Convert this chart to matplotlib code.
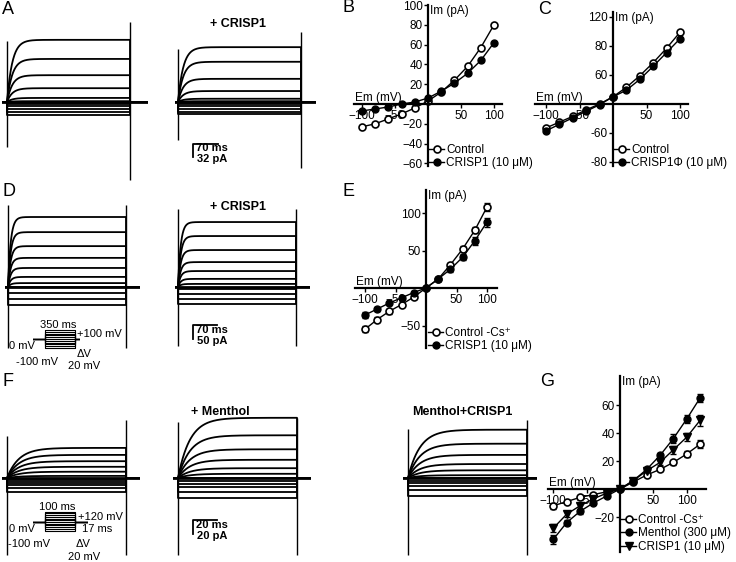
import numpy as np
import matplotlib
matplotlib.use('Agg')
import matplotlib.pyplot as plt

plt.rcParams['font.family'] = ['Liberation Sans', 'DejaVu Sans']

W, H = 736, 562

# ---------------- I-V data ----------------
v_100 = [-100, -80, -60, -40, -20, 0, 20, 40, 60, 80, 100]
v_120 = [-100, -80, -60, -40, -20, 0, 20, 40, 60, 80, 100, 120]

b_control = [-23, -20, -15, -10, -4, 3, 12, 24, 38, 57, 80]
b_crisp1 = [-7, -5, -3, 0, 2, 6, 13, 21, 31, 44, 62]

c_control = [-33, -25, -17, -8, 0, 10, 23, 39, 57, 77, 99]
c_crisp1phi = [-37, -28, -19, -10, -1, 10, 19, 34, 52, 71, 90]
c_tick_pos = [120, 80, 40, -40, -80]
c_tick_lab = ['120', '80', '60', '-60', '-80']

e_control = [-55, -42, -31, -22, -12, 0, 12, 31, 52, 77, 108]
e_control_err = [4, 3, 3, 2, 2, 1, 2, 3, 4, 4, 5]
e_crisp1 = [-36, -28, -20, -13, -6, 0, 12, 25, 41, 63, 88]
e_crisp1_err = [4, 3, 3, 2, 2, 1, 2, 3, 4, 5, 6]

g_control = [-12, -9, -6, -4, -2, 0, 5, 10, 14, 19, 25, 32]
g_control_err = [2, 1, 1, 1, 1, 1, 1, 1, 1, 2, 2, 3]
g_menthol = [-36, -24, -16, -10, -5, 0, 6, 14, 24, 36, 50, 65]
g_menthol_err = [3, 2, 2, 1, 1, 1, 1, 2, 2, 3, 3, 3]
g_crisp1 = [-28, -18, -12, -7, -3, 0, 6, 13, 19, 28, 37, 49]
g_crisp1_err = [3, 2, 2, 1, 1, 1, 1, 2, 2, 3, 3, 4]

# ---------------- current trace amplitudes (pA, steady state) ----------------
a_control_amp = [-32, -25, -17, -10, -5, 2, 10, 34, 66, 106, 153]
a_crisp1_amp = [-30, -24, -17, -10, -5, 2, 8, 27, 57, 99, 135]
d_control_amp = [-64, -43, -21, 0, 14, 36, 68, 104, 146, 196, 250]
d_crisp1_amp = [-61, -43, -25, -7, 11, 29, 57, 89, 132, 182, 232]
f_control_amp = [-20, -14, -10, -7, -4, -1, 3, 9, 16, 24, 33, 43]
f_menthol_amp = [-29, -20, -13, -9, -4, 0, 6, 14, 26, 41, 61, 86]
f_mix_amp = [-26, -17, -11, -7, -4, 0, 4, 11, 20, 33, 49, 69]

fig = plt.figure(figsize=(W / 100, H / 100), dpi=100)


def data_axes(x0, y0, sx, sy, xlim, ylim):
    # x0,y0: pixel position of data origin, sx,sy: pixels per data unit
    left = x0 + xlim[0] * sx
    right = x0 + xlim[1] * sx
    top = y0 - ylim[1] * sy
    bottom = y0 - ylim[0] * sy
    ax = fig.add_axes([left / W, 1 - bottom / H, (right - left) / W, (bottom - top) / H])
    ax.set_xlim(xlim)
    ax.set_ylim(ylim)
    ax.patch.set_visible(False)
    return ax


def ftext(x, y, s, **kw):
    kw.setdefault('va', 'center')
    fig.text(x / W, 1 - y / H, s, **kw)


def iv_axes(x0, y0, sx, sy, xlim, ylim, yticks, ylabels=None):
    ax = data_axes(x0, y0, sx, sy, xlim, ylim)
    ax.spines['top'].set_visible(False)
    ax.spines['right'].set_visible(False)
    ax.spines['left'].set_position(('data', 0))
    ax.spines['bottom'].set_position(('data', 0))
    ax.spines['left'].set_linewidth(1.6)
    ax.spines['bottom'].set_linewidth(1.6)
    ax.set_xticks([-100, -50, 50, 100])
    ax.set_yticks(yticks)
    if ylabels is not None:
        ax.set_yticklabels(ylabels)
    ax.tick_params(direction='out', length=3, width=1, labelsize=8.5, pad=1)
    ax.text(xlim[0] + 1, 0, 'Em (mV)', fontsize=8.5, va='bottom', ha='left')
    ax.text(3, ylim[1], 'Im (pA)', fontsize=8.5, va='top', ha='left')
    return ax


def legend_at(ax, px, py):
    ax.legend(loc='upper left', bbox_to_anchor=(px / W, 1 - py / H),
              bbox_transform=fig.transFigure, frameon=False, fontsize=8.5,
              handlelength=1.3, handletextpad=0.15, labelspacing=0.12,
              borderaxespad=0, borderpad=0)


open_kw = dict(color='k', marker='o', mfc='white', mec='k', mew=1.2, ms=5, lw=1)
fill_kw = dict(color='k', marker='o', mfc='k', mec='k', ms=5, lw=1)
tri_kw = dict(color='k', marker='v', mfc='k', mec='k', ms=5.5, lw=1)


def trace_panel(x_on, y_base, sx, sy, amps, tau, t_step, t_pre, t_post, art_on, art_off):
    ax = data_axes(x_on, y_base, sx, sy, (-t_pre, t_step + t_post), (-400, 400))
    ax.axis('off')
    t = np.linspace(0, t_step, 300)
    for a in amps:
        if a > 0:
            i = a * (1 - np.exp(-t / tau))
        else:
            i = np.full_like(t, a)
        tt = np.concatenate([[-t_pre, 0], t, [t_step, t_step + t_post]])
        ii = np.concatenate([[0, 0], i, [0, 0]])
        ax.plot(tt, ii, color='k', lw=1.3)
    ax.vlines(0, art_on[0], art_on[1], color='k', lw=1)
    ax.vlines(t_step, art_off[0], art_off[1], color='k', lw=1)
    ax.plot([-t_pre, t_step + t_post], [0, 0], color='k', lw=2)
    return ax


def scale_bar(ax, t0, i0, dt, di):
    ax.plot([t0 + dt, t0, t0], [i0, i0, i0 - di], color='k', lw=1.3, clip_on=False)


def protocol(x_on, y_hold, sx, sy, volts, t_step, t_pre, t_post):
    ax = data_axes(x_on, y_hold, sx, sy, (-t_pre, t_step + t_post), (-130, 130))
    ax.axis('off')
    for v in volts:
        ax.plot([-t_pre, 0, 0, t_step, t_step, t_step + t_post], [0, 0, v, v, 0, 0],
                color='k', lw=0.8)
    return ax


# ---------------- Row A / B / C ----------------
sx_a, sy_a = 123 / 350, 13 / 32
trace_panel(7, 102, sx_a, sy_a, a_control_amp, 15, 350, 14, 51, (-110, 150), (-192, 197))
ax_a2 = trace_panel(178, 102, sx_a, sy_a, a_crisp1_amp, 15, 350, 9, 43, (-94, 130), (-163, 172))
scale_bar(ax_a2, 43, -103, 70, 32)
ftext(238, 24, '+ CRISP1', fontsize=9, fontweight='bold', ha='center')
ftext(196, 148, '70 ms', fontsize=8, fontweight='bold', ha='left')
ftext(197, 159, '32 pA', fontsize=8, fontweight='bold', ha='left')

ax_b = iv_axes(428, 104, 0.66, 0.99, (-112, 112), (-63, 100),
               [-60, -40, -20, 20, 40, 60, 80, 100])
ax_b.plot(v_100, b_control, label='Control', **open_kw)
ax_b.plot(v_100, b_crisp1, label='CRISP1 (10 μM)', **fill_kw)
legend_at(ax_b, 429, 144)

ax_c = iv_axes(613, 104, 0.67, 0.725, (-116, 112), (-86, 127), c_tick_pos, c_tick_lab)
ax_c.plot(v_100, c_control, label='Control', **open_kw)
ax_c.plot(v_100, c_crisp1phi, label='CRISP1Φ (10 μM)', **fill_kw)
legend_at(ax_c, 614, 144)

# ---------------- Row D / E ----------------
sx_d, sy_d = 118 / 350, 14 / 50
trace_panel(8, 287, sx_d, sy_d, d_control_amp, 8, 350, 9, 42, (-218, 293), (-218, 293))
ax_d2 = trace_panel(178, 287, sx_d, sy_d, d_crisp1_amp, 8, 350, 9, 42, (-210, 280), (-210, 280))
scale_bar(ax_d2, 45, -136, 70, 50)
ftext(238, 207, '+ CRISP1', fontsize=9, fontweight='bold', ha='center')
ftext(196, 330, '70 ms', fontsize=8, fontweight='bold', ha='left')
ftext(197, 341, '50 pA', fontsize=8, fontweight='bold', ha='left')

protocol(45, 339, 30 / 350, 0.09, v_100, 350, 140, 60)
ftext(58, 325, '350 ms', fontsize=8, ha='center')
ftext(77, 334, '+100 mV', fontsize=8, ha='left')
ftext(9, 346, '0 mV', fontsize=8, ha='left')
ftext(16, 362, '-100 mV', fontsize=8, ha='left')
ftext(77, 354, 'ΔV', fontsize=8, ha='left')
ftext(68, 366, '20 mV', fontsize=8, ha='left')

ax_e = iv_axes(426, 288, 0.61, 0.75, (-116, 116), (-80, 131), [-50, 50, 100])
ax_e.errorbar(v_100, e_control, yerr=e_control_err, fmt='none', ecolor='k', elinewidth=1, capsize=2)
ax_e.errorbar(v_100, e_crisp1, yerr=e_crisp1_err, fmt='none', ecolor='k', elinewidth=1, capsize=2)
ax_e.plot(v_100, e_control, label='Control -Cs⁺', **open_kw)
ax_e.plot(v_100, e_crisp1, label='CRISP1 (10 μM)', **fill_kw)
legend_at(ax_e, 428, 327)

# ---------------- Row F / G ----------------
sx_f, sy_f = 119 / 100, 14 / 20
trace_panel(7, 478, sx_f, sy_f, f_control_amp, 10, 100, 4, 12, (-110, 60), (-110, 83))
ax_f2 = trace_panel(178, 478, sx_f, sy_f, f_menthol_amp, 10, 100, 4, 12, (-110, 80), (-110, 86))
trace_panel(408, 478, sx_f, sy_f, f_mix_amp, 10, 100, 4, 8, (-110, 70), (-110, 83))
scale_bar(ax_f2, 12.6, -60, 20, 20)
ftext(220, 412, '+ Menthol', fontsize=9, fontweight='bold', ha='center')
ftext(462, 412, 'Menthol+CRISP1', fontsize=9, fontweight='bold', ha='center')
ftext(196, 525, '20 ms', fontsize=8, fontweight='bold', ha='left')
ftext(197, 536, '20 pA', fontsize=8, fontweight='bold', ha='left')

protocol(45, 522, 0.3, 0.086, v_120, 100, 40, 43)
ftext(57, 507, '100 ms', fontsize=8, ha='center')
ftext(78, 517, '+120 mV', fontsize=8, ha='left')
ftext(82, 529, '17 ms', fontsize=8, ha='left')
ftext(9, 529, '0 mV', fontsize=8, ha='left')
ftext(8, 544, '-100 mV', fontsize=8, ha='left')
ftext(76, 544, 'ΔV', fontsize=8, ha='left')
ftext(68, 557, '20 mV', fontsize=8, ha='left')

ax_g = iv_axes(620, 489, 0.667, 1.4, (-108, 129), (-45, 81), [-20, 20, 40, 60])
ax_g.errorbar(v_120, g_control, yerr=g_control_err, fmt='none', ecolor='k', elinewidth=1, capsize=2)
ax_g.errorbar(v_120, g_menthol, yerr=g_menthol_err, fmt='none', ecolor='k', elinewidth=1, capsize=2)
ax_g.errorbar(v_120, g_crisp1, yerr=g_crisp1_err, fmt='none', ecolor='k', elinewidth=1, capsize=2)
ax_g.plot(v_120, g_control, label='Control -Cs⁺', **open_kw)
ax_g.plot(v_120, g_menthol, label='Menthol (300 μM)', **fill_kw)
ax_g.plot(v_120, g_crisp1, label='CRISP1 (10 μM)', **tri_kw)
legend_at(ax_g, 621, 514)

# ---------------- panel letters ----------------
for letter, x, y in [('A', 2, 9), ('B', 343, 8), ('C', 538, 10), ('D', 2, 191),
                     ('E', 343, 191), ('F', 2, 382), ('G', 540, 381)]:
    ftext(x, y, letter, fontsize=13, ha='left')

fig.savefig('out.png', dpi=100)
